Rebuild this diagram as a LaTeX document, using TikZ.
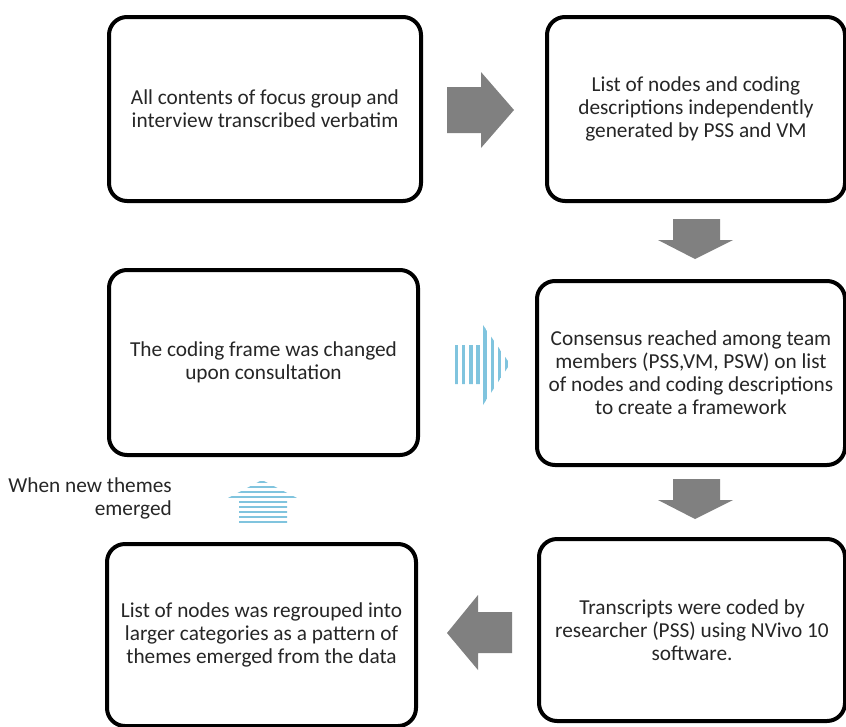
\documentclass[tikz,border=0pt]{standalone}
\usepackage{fontspec}
\setmainfont{Carlito}
\definecolor{arrgray}{RGB}{128,128,128}
\definecolor{stripe}{RGB}{128,196,222}
\definecolor{txt}{RGB}{38,38,38}
\begin{document}
\begin{tikzpicture}[x=1pt,y=-1pt,
  box/.style={draw=black,line width=4pt,rounded corners=18pt,fill=white,
    font=\fontsize{21.3}{23}\selectfont,text=txt,align=center,inner sep=0pt},
  blockarrow/.style={fill=arrgray,draw=none}]
\useasboundingbox (0,0) rectangle (846,726);
\node[box,minimum width=312pt,minimum height=184pt] (b1) at (265,109)
  {All contents of focus group and\\interview transcribed verbatim};
\node[box,minimum width=298pt,minimum height=184pt] (b2) at (696,109)
  {List of nodes and coding\\descriptions independently\\generated by PSS and VM};
\node[box,minimum width=309pt,minimum height=185pt] (b3) at (263.5,362.5)
  {The coding frame was changed\\upon consultation};
\node[box,minimum width=308pt,minimum height=184pt] (b4) at (691,373)
  {Consensus reached among team\\members (PSS,VM, PSW) on list\\of nodes and coding descriptions\\to create a framework};
\node[box,minimum width=306pt,minimum height=182pt] (b6) at (692,630)
  {Transcripts were coded by\\researcher (PSS) using NVivo 10\\software.};
\node[box,minimum width=309pt,minimum height=182pt] (b5) at (261.5,635)
  {List of nodes was regrouped into\\larger categories as a pattern of\\themes emerged from the data};
\node[anchor=east,font=\fontsize{21.3}{23}\selectfont,text=txt,align=right,inner sep=0pt] (lbl) at (172,498)
  {When new themes\\emerged};
% gray block arrows
\fill[blockarrow] (447,87) -- (481,87) -- (481,72) -- (514,110) -- (481,148) -- (481,133) -- (447,133) -- cycle;
\fill[blockarrow] (673,219) -- (720,219) -- (720,240) -- (733,240) -- (695,259) -- (658,240) -- (673,240) -- cycle;
\fill[blockarrow] (673,479) -- (720,479) -- (720,500) -- (733,500) -- (695,519) -- (658,500) -- (673,500) -- cycle;
\fill[blockarrow] (512,612) -- (478,612) -- (478,595) -- (447,633) -- (478,670) -- (478,653) -- (512,653) -- cycle;
% striped right arrow
\begin{scope}
  \clip (455,345) -- (483,345) -- (483,325) -- (510,364) -- (483,405) -- (483,384) -- (455,384) -- cycle;
  \foreach \i in {0,...,8} {
    \fill[stripe] ({455+\i*7.1},320) rectangle ({458.3+\i*7.1},410);
  }
\end{scope}
% striped up arrow
\begin{scope}
  \clip (239,523) -- (239,498) -- (228,498) -- (262,480) -- (297,498) -- (287,498) -- (287,523) -- cycle;
  \foreach \i in {0,...,8} {
    \fill[stripe] (225,{481+\i*5}) rectangle (300,{483.2+\i*5});
  }
\end{scope}
\end{tikzpicture}
\end{document}
